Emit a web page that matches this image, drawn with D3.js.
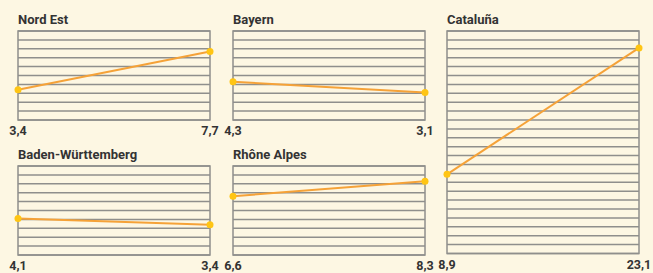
<!DOCTYPE html>
<html>
<head>
<meta charset="utf-8">
<script src="https://cdn.jsdelivr.net/npm/d3@7"></script>
<style>
  body { margin: 0; background: #fdf7e3; }
  text { font-family: Roboto, "DejaVu Sans", sans-serif; fill: #333; }
</style>
</head>
<body>
<div id="chart"></div>
<script>
// data
var regions = ["Nord Est", "Bayern", "Cataluña", "Baden-Württemberg", "Rhône Alpes"];
var startVals = [3.4, 4.3, 8.9, 4.1, 6.6];
var endVals = [7.7, 3.1, 23.1, 3.4, 8.3];
var maxVals = [10, 10, 25, 10, 10];

// layout per panel
var panelX = [18, 233, 447, 18, 233];
var panelY = [31, 31, 31, 166, 166];
var unit = 8.9, boxW = 192;

var fmt = function (v) { return d3.format(".1f")(v).replace(".", ","); };

var svg = d3.select("#chart").append("svg")
    .attr("width", 653).attr("height", 273);

svg.append("rect").attr("width", 653).attr("height", 273).attr("fill", "#fdf7e3");

regions.forEach(function (name, i) {
    var h = maxVals[i] * unit;
    var g = svg.append("g")
        .attr("transform", "translate(" + panelX[i] + "," + panelY[i] + ")");

    var x = d3.scalePoint().domain(["start", "end"]).range([0, boxW]);
    var y = d3.scaleLinear().domain([0, maxVals[i]]).range([h, 0]);

    // horizontal grid, one line per unit
    g.selectAll("line.grid")
        .data(d3.range(0, maxVals[i] + 1))
        .enter().append("line")
        .attr("class", "grid")
        .attr("x1", 0).attr("x2", boxW)
        .attr("y1", function (d) { return y(d); })
        .attr("y2", function (d) { return y(d); })
        .attr("stroke", "#8f8f8c").attr("stroke-width", 1.5);

    g.append("rect")
        .attr("x", 0).attr("y", 0).attr("width", boxW).attr("height", h)
        .attr("fill", "none").attr("stroke", "#8f8f8c").attr("stroke-width", 1.5);

    g.append("text")
        .attr("x", 0).attr("y", -7)
        .attr("font-size", 13).attr("font-weight", "bold")
        .text(name);

    var pts = [{ k: "start", v: startVals[i] }, { k: "end", v: endVals[i] }];

    var line = d3.line()
        .x(function (d) { return x(d.k); })
        .y(function (d) { return y(d.v); });

    g.append("path")
        .attr("d", line(pts))
        .attr("fill", "none").attr("stroke", "#f5a238").attr("stroke-width", 2);

    g.selectAll("circle")
        .data(pts).enter().append("circle")
        .attr("cx", function (d) { return x(d.k); })
        .attr("cy", function (d) { return y(d.v); })
        .attr("r", 3.5)
        .attr("fill", "#ffc514");

    g.selectAll("text.val")
        .data(pts).enter().append("text")
        .attr("class", "val")
        .attr("x", function (d) { return x(d.k); })
        .attr("y", h + 15)
        .attr("text-anchor", "middle")
        .attr("font-size", 12.5).attr("font-weight", "bold")
        .text(function (d) { return fmt(d.v); });
});
</script>
</body>
</html>
